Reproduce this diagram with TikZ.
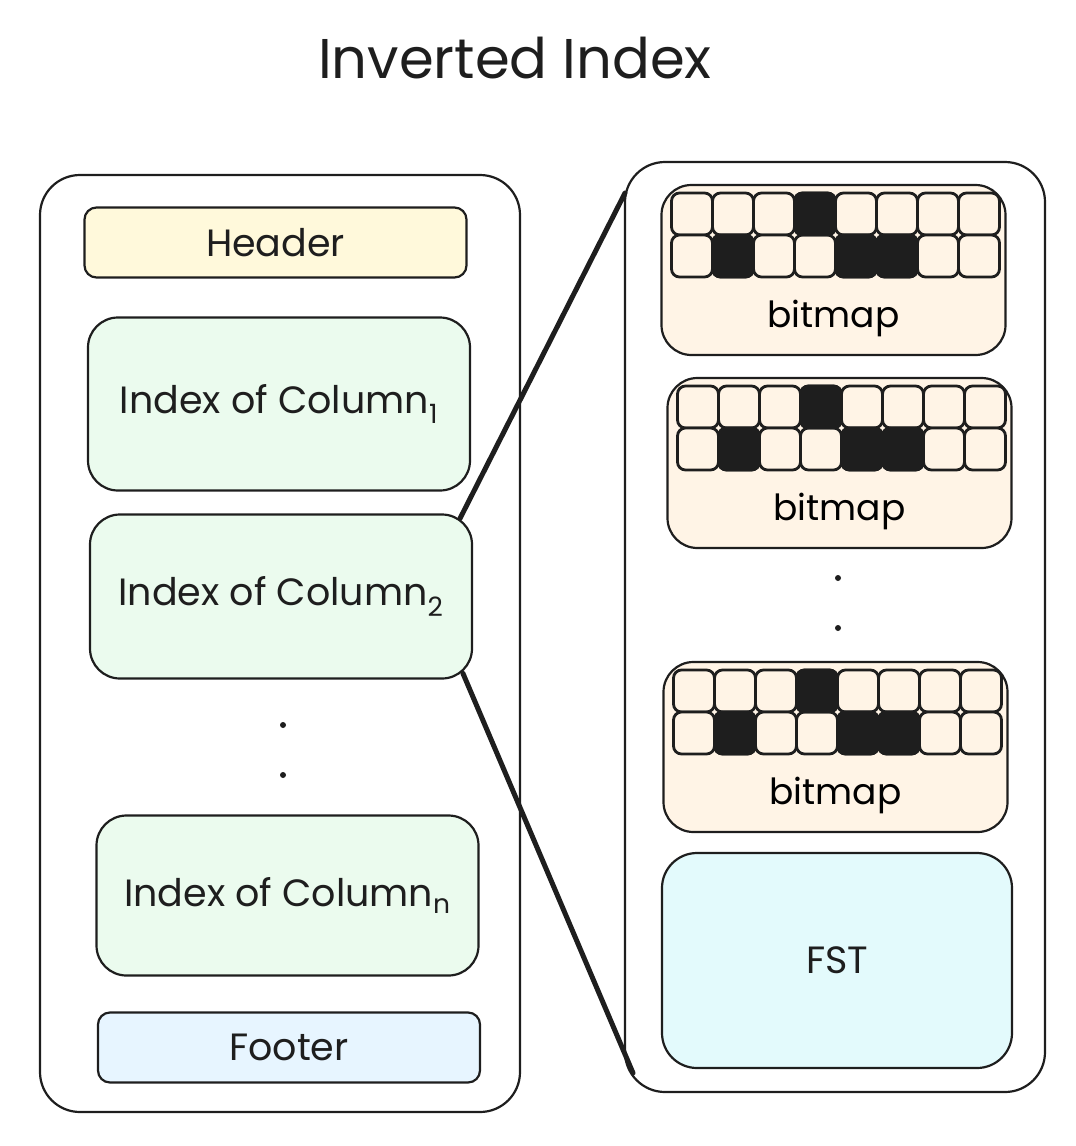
\documentclass[tikz,border=0pt]{standalone}
\usepackage{fontspec}
\setmainfont{Poppins}
\usetikzlibrary{positioning}
\definecolor{ink}{HTML}{1E1E1E}
\definecolor{hdrfill}{HTML}{FFF9DB}
\definecolor{colfill}{HTML}{EBFBEE}
\definecolor{ftrfill}{HTML}{E7F5FF}
\definecolor{bmfill}{HTML}{FFF4E6}
\definecolor{fstfill}{HTML}{E3FAFC}
\newcommand{\bigtxt}{\fontsize{38}{44}\selectfont}

\tikzset{
  box/.style={draw=ink, line width=2.2pt, inner sep=0pt, outer sep=0pt, align=center, font=\bigtxt, text=ink},
  outer/.style={box, rounded corners=40pt, fill=none},
  thinbox/.style={box, rounded corners=12pt, minimum width=382pt, minimum height=70pt},
  colbox/.style={box, rounded corners=30pt, fill=colfill, minimum width=382pt},
  bmbox/.style={box, rounded corners=30pt, fill=bmfill, minimum width=344pt, minimum height=170pt},
  cell/.style={draw=ink, line width=2.8pt, rounded corners=8pt, fill=bmfill},
  onecell/.style={cell, fill=ink},
  dotmark/.style={circle, fill=ink, inner sep=0pt, minimum size=6pt},
  link/.style={draw=ink, line width=5pt, line cap=round}
}

\begin{document}
\begin{tikzpicture}[x=1pt,y=-1pt]
  \useasboundingbox (0,0) rectangle (1076,1146);
  \node[font=\fontsize{56}{64}\selectfont, text=ink] (title) at (515,58) {Inverted Index};

  \node[outer, minimum width=480pt, minimum height=937pt] (lbox) at (280,643.5) {};
  \node[outer, minimum width=420pt, minimum height=930pt] (rbox) at (835,627) {};

  \node[thinbox, fill=hdrfill] (header) at (275.5,242.5) {Header};
  \node[colbox, minimum height=173pt, below=40pt of header, xshift=3.5pt] (col1) {Index of Column\textsubscript{1}};
  \node[colbox, minimum height=164pt, below=24pt of col1, xshift=2pt] (col2) {Index of Column\textsubscript{2}};
  \node[dotmark] (ldot1) at (283,725) {};
  \node[dotmark] (ldot2) at (283,775) {};
  \node[colbox, minimum height=160pt, below=137pt of col2, xshift=6.5pt] (coln) {Index of Column\textsubscript{n}};
  \node[thinbox, fill=ftrfill, below=37pt of coln, xshift=1.5pt] (footer) {Footer};

  \node[bmbox, label={[anchor=base, yshift=28pt, font=\fontsize{36}{40}\selectfont]south:bitmap}] (bm1) at (833.5,270) {};
  \node[bmbox, label={[anchor=base, yshift=28pt, font=\fontsize{36}{40}\selectfont]south:bitmap}, below=23pt of bm1, xshift=6pt] (bm2) {};
  \node[dotmark] (rdot1) at (838,578) {};
  \node[dotmark] (rdot2) at (838,628) {};
  \node[bmbox, label={[anchor=base, yshift=28pt, font=\fontsize{36}{40}\selectfont]south:bitmap}, below=114pt of bm2, xshift=-4pt] (bm3) {};
  \node[box, rounded corners=35pt, fill=fstfill, minimum width=350pt, minimum height=215pt, below=21pt of bm3, xshift=1.5pt] (fst) {FST};

  \foreach \b in {bm1,bm2,bm3} {
    \foreach \i in {0,...,7}
      \foreach \j in {0,1}
        \draw[cell] ([shift={(10+41*\i,8+42*\j)}]\b.north west) rectangle ++(41,42);
    \foreach \i/\j in {3/0,1/1,4/1,5/1}
      \draw[onecell] ([shift={(10+41*\i,8+42*\j)}]\b.north west) rectangle ++(41,42);
  }

  \draw[link] ([xshift=-12pt,yshift=-4pt]col2.north east) -- ([yshift=-31pt]rbox.north west);
  \draw[link] ([xshift=-9pt,yshift=5pt]col2.south east) -- ([xshift=8pt,yshift=19pt]rbox.south west);
\end{tikzpicture}
\end{document}
